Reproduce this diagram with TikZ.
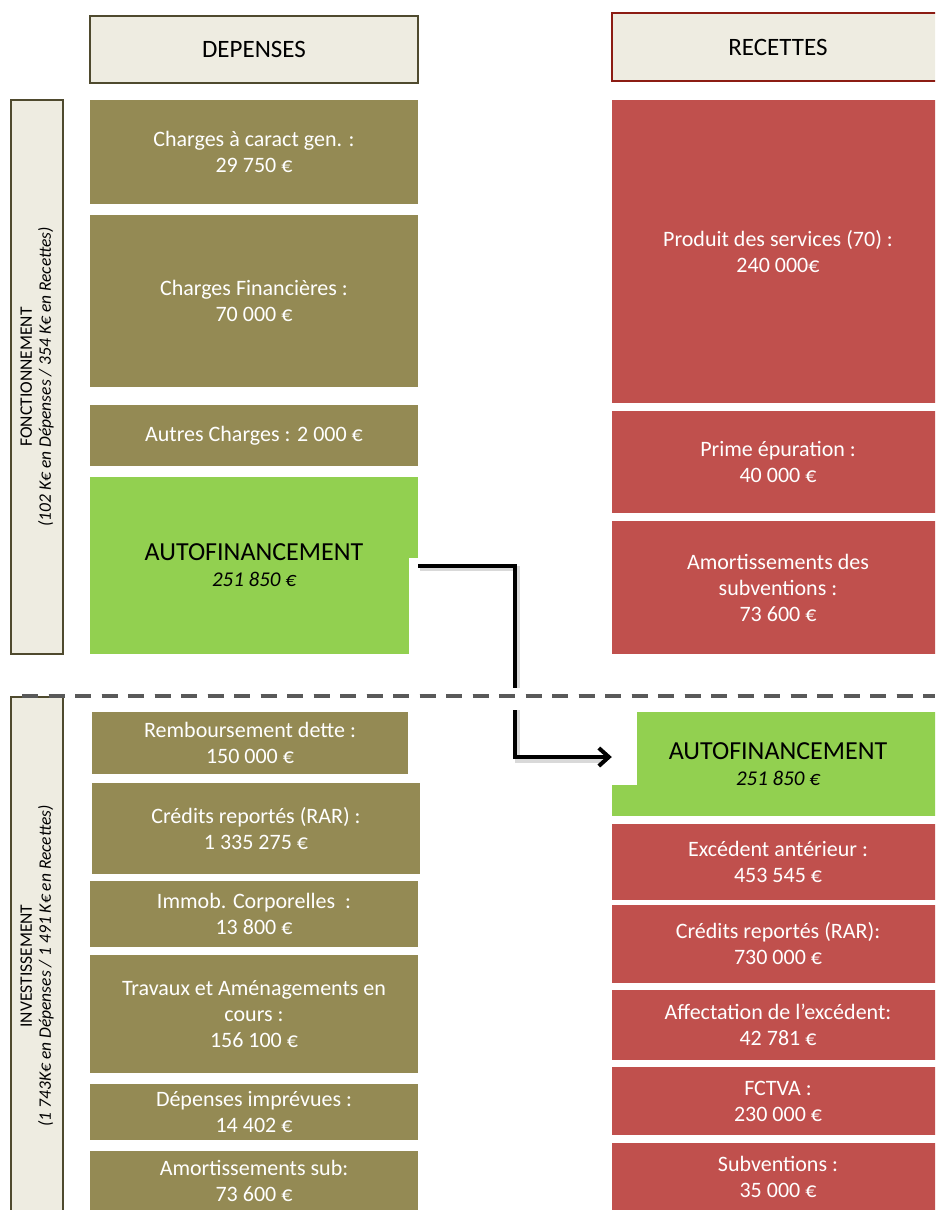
\documentclass[tikz,border=0pt]{standalone}
\usepackage{fontspec}
\setmainfont{Carlito}
\usepackage{tikz}
\usetikzlibrary{arrows.meta, positioning}
\definecolor{olivebox}{HTML}{948A54}
\definecolor{redbox}{HTML}{C0504D}
\definecolor{greenbox}{HTML}{92D050}
\definecolor{beigebox}{HTML}{EEECE1}
\definecolor{oliveline}{HTML}{4F4A2E}
\definecolor{redline}{HTML}{8C1C13}
\definecolor{dashgray}{HTML}{595959}
\tikzstyle{header} = [rectangle, draw=oliveline, line width=1.5pt, fill=beigebox, text=black, font=\fontsize{25}{30}\selectfont, inner sep=0pt]
\tikzstyle{sidelabel} = [rectangle, draw=oliveline, line width=1.8pt, fill=beigebox, rotate=90, align=center, font=\fontsize{17.5}{19}\selectfont, minimum height=52pt, inner sep=0pt]
\tikzstyle{depbox} = [rectangle, fill=olivebox, text=white, align=center, font=\fontsize{22}{26}\selectfont, minimum width=328pt, inner sep=0pt]
\tikzstyle{recbox} = [rectangle, fill=redbox, text=white, align=center, font=\fontsize{22}{26}\selectfont, minimum width=332pt, inner sep=0pt]
\tikzstyle{autobox} = [rectangle, fill=greenbox, text=black, align=center, font=\fontsize{26}{26}\selectfont, inner sep=0pt]
\tikzstyle{arrow} = [line width=4pt, -{Straight Barb[length=10pt,width=18pt]}]

\begin{document}
\begin{tikzpicture}[x=1pt, y=-1pt]
    \clip (0,0) rectangle (935,1210);
    \fill[white] (0,0) rectangle (935,1210);

    % Headers
    \node [header, minimum width=328pt, minimum height=67pt] (depH) at (254,49.5) {DEPENSES};
    \node [header, draw=redline, minimum width=332pt, minimum height=68pt] (recH) at (778,47) {RECETTES};

    % Fonctionnement
    \node [sidelabel, minimum width=554pt] (fonct) at (37,377) {FONCTIONNEMENT\\\textit{(102 K€ en Dépenses / 354 K€ en Recettes)}};

    \node [depbox, minimum height=104pt] (chgen) at (254,152) {Charges à caract gen. :\\29 750 €};
    \node [depbox, minimum height=172pt] (chfin) at (254,301) {Charges Financières :\\70 000 €};
    \node [depbox, minimum height=61pt] (autres) at (254,435.5) {Autres Charges : 2 000 €};
    \node [autobox, minimum width=328pt, minimum height=177pt] (autoD) at (254,565.5) {AUTOFINANCEMENT\\{\fontsize{21}{25}\selectfont\itshape 251 850 €}};

    \node [recbox, minimum height=303pt] (prod) at (778,251.5) {Produit des services (70) :\\240 000€};
    \node [recbox, minimum height=102pt] (prime) at (778,462) {Prime épuration :\\40 000 €};
    \node [recbox, minimum height=133pt] (amortR) at (778,587.5) {Amortissements des\\subventions :\\73 600 €};

    % Separation
    \draw [white, line width=22pt] (22,699) -- (935,699);
    \draw [dashgray, line width=4pt, dash pattern=on 16pt off 10.5pt] (22,696) -- (935,696);

    % Investissement
    \node [sidelabel, minimum width=538pt] (invest) at (37,966) {INVESTISSEMENT\\\textit{(1 743K€ en Dépenses / 1 491 K€ en Recettes)}};

    \node [depbox, minimum width=316pt, minimum height=62pt] (remb) at (250,743) {Remboursement dette :\\150 000 €};
    \node [depbox, minimum height=91pt] (credD) at (256,828.5) {Crédits reportés (RAR) :\\1 335 275 €};
    \node [depbox, minimum height=66pt] (immob) at (254,914) {Immob. Corporelles~ :\\13 800 €};
    \node [depbox, minimum height=118pt] (trav) at (254,1014) {Travaux et Aménagements en\\cours :\\156 100 €};
    \node [depbox, minimum height=56pt] (imprev) at (254,1112) {Dépenses imprévues :\\14 402 €};
    \node [depbox, minimum height=59pt] (amortD) at (254,1180.5) {Amortissements sub:\\73 600 €};

    \node [autobox, minimum width=332pt, minimum height=104pt] (autoR) at (778,764) {AUTOFINANCEMENT\\{\fontsize{21}{25}\selectfont\itshape 251 850 €}};
    \node [recbox, minimum height=76pt] (excd) at (778,862) {Excédent antérieur :\\453 545 €};
    \node [recbox, minimum height=78pt] (credR) at (778,944) {Crédits reportés (RAR):\\730 000 €};
    \node [recbox, minimum height=70pt] (affect) at (778,1025) {Affectation de l’excédent:\\42 781 €};
    \node [recbox, minimum height=68pt] (fctva) at (778,1101) {FCTVA :\\230 000 €};
    \node [recbox, minimum height=67pt] (subv) at (778,1176.5) {Subventions :\\35 000 €};

    % Gaps left round the arrow
    \fill [white] (408.5,558) rectangle (419,655);
    \fill [white] (611,711) rectangle (637,785);

    % Autofinancement transfer
    \draw [black!15, line width=5pt] ([xshift=2pt,yshift=-3pt]autoD.east) -- ++(97,0) |- ([xshift=-6pt,yshift=4pt]autoR.west);
    \draw [arrow] (autoD.east) -- ++(97,0) |- ([yshift=7pt]autoR.west);
    \draw [white, line width=22pt] (500,699) -- (530,699);
    \draw [dashgray, line width=4pt, dash pattern=on 16pt off 10.5pt] (22,696) -- (935,696);
\end{tikzpicture}
\end{document}
